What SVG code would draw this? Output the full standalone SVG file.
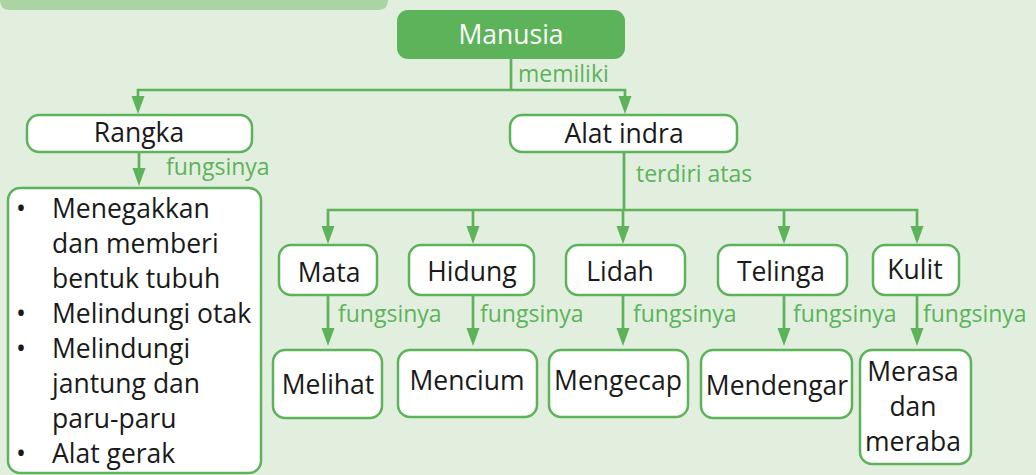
<svg xmlns="http://www.w3.org/2000/svg" width="1036" height="475" viewBox="0 0 1036 475">
<defs>
<style>
.bg{fill:#e2efdf}
.box{fill:#ffffff;stroke:#5cb35a;stroke-width:2.5}
.t{font-family:"Open Sans","Noto Sans","Liberation Sans",sans-serif;font-size:26.5px;fill:#1a1a1a;text-anchor:middle}
.tl{font-family:"Open Sans","Noto Sans","Liberation Sans",sans-serif;font-size:26.5px;fill:#1a1a1a}
.lbl{font-family:"Open Sans","Noto Sans","Liberation Sans",sans-serif;font-size:23px;fill:#5cb35a}
.ln{fill:none;stroke:#5cb35a;stroke-width:2.7}
.ah{fill:#5cb35a}
</style>
</defs>
<rect class="bg" x="0" y="0" width="1036" height="475"/>
<path d="M0,-10 H388 V0 Q388,10 378,10 H10 Q0,10 0,0 Z" fill="#acd3a4"/>

<g id="connectors">
<path class="ln" d="M511,59 V90"/>
<path class="ln" d="M138,98 V90 H625 V98"/>
<polygon class="ah" points="131.5,96 144.5,96 138,114"/>
<polygon class="ah" points="618.5,96 631.5,96 625,114"/>
<path class="ln" d="M139,152 V170"/>
<polygon class="ah" points="132.5,168 145.5,168 139,186"/>
<path class="ln" d="M624,152 V210"/>
<path class="ln" d="M328,228 V210 H917 V228"/>
<path class="ln" d="M473,210 V228"/>
<path class="ln" d="M623,210 V228"/>
<path class="ln" d="M784,210 V228"/>
<polygon class="ah" points="321.5,226 334.5,226 328,244"/>
<polygon class="ah" points="466.5,226 479.5,226 473,244"/>
<polygon class="ah" points="616.5,226 629.5,226 623,244"/>
<polygon class="ah" points="777.5,226 790.5,226 784,244"/>
<polygon class="ah" points="910.5,226 923.5,226 917,244"/>
<path class="ln" d="M328,295 V330"/>
<path class="ln" d="M473,295 V330"/>
<path class="ln" d="M623,295 V330"/>
<path class="ln" d="M784,295 V330"/>
<path class="ln" d="M917,295 V330"/>
<polygon class="ah" points="321.5,328 334.5,328 328,346"/>
<polygon class="ah" points="466.5,328 479.5,328 473,346"/>
<polygon class="ah" points="616.5,328 629.5,328 623,346"/>
<polygon class="ah" points="777.5,328 790.5,328 784,346"/>
<polygon class="ah" points="910.5,328 923.5,328 917,346"/>
<text class="lbl" x="518" y="82">memiliki</text>
<text class="lbl" x="166" y="175">fungsinya</text>
<text class="lbl" x="636" y="182">terdiri atas</text>
<text class="lbl" x="338" y="322">fungsinya</text>
<text class="lbl" x="480" y="322">fungsinya</text>
<text class="lbl" x="633" y="322">fungsinya</text>
<text class="lbl" x="793" y="322">fungsinya</text>
<text class="lbl" x="923" y="322">fungsinya</text>
</g>

<g id="manusia">
<rect x="397" y="10" width="228" height="49" rx="11" fill="#5cb35a"/>
<text class="t" x="511" y="44" style="fill:#ffffff">Manusia</text>
</g>
<g id="rangka">
<rect class="box" x="27" y="115" width="225" height="37" rx="12"/>
<text class="t" x="139" y="142">Rangka</text>
</g>
<g id="alat-indra">
<rect class="box" x="510" y="115" width="227" height="37" rx="12"/>
<text class="t" x="624" y="143">Alat indra</text>
</g>
<g id="fungsi-rangka">
<rect class="box" x="8" y="188" width="253" height="285" rx="12"/>
<text class="tl" x="16" y="218">•</text>
<text class="tl" x="52" y="218">Menegakkan</text>
<text class="tl" x="52" y="253">dan memberi</text>
<text class="tl" x="52" y="288">bentuk tubuh</text>
<text class="tl" x="16" y="323">•</text>
<text class="tl" x="52" y="323">Melindungi otak</text>
<text class="tl" x="16" y="358">•</text>
<text class="tl" x="52" y="358">Melindungi</text>
<text class="tl" x="52" y="393">jantung dan</text>
<text class="tl" x="52" y="428">paru-paru</text>
<text class="tl" x="16" y="463">•</text>
<text class="tl" x="52" y="463">Alat gerak</text>
</g>
<g id="mata">
<rect class="box" x="279" y="245" width="98" height="50" rx="12"/>
<text class="t" x="329" y="282">Mata</text>
</g>
<g id="hidung">
<rect class="box" x="409" y="245" width="125" height="50" rx="12"/>
<text class="t" x="472" y="281">Hidung</text>
</g>
<g id="lidah">
<rect class="box" x="566" y="245" width="119" height="50" rx="12"/>
<text class="t" x="620" y="281">Lidah</text>
</g>
<g id="telinga">
<rect class="box" x="718" y="245" width="129" height="50" rx="12"/>
<text class="t" x="781" y="281">Telinga</text>
</g>
<g id="kulit">
<rect class="box" x="873" y="245" width="86" height="50" rx="12"/>
<text class="t" x="915" y="279">Kulit</text>
</g>
<g id="melihat">
<rect class="box" x="273" y="350" width="109" height="68" rx="12"/>
<text class="t" x="328" y="394">Melihat</text>
</g>
<g id="mencium">
<rect class="box" x="398" y="350" width="139" height="67" rx="12"/>
<text class="t" x="467" y="390">Mencium</text>
</g>
<g id="mengecap">
<rect class="box" x="549" y="350" width="139" height="67" rx="12"/>
<text class="t" x="618" y="390">Mengecap</text>
</g>
<g id="mendengar">
<rect class="box" x="701" y="350" width="151" height="68" rx="12"/>
<text class="t" x="777" y="395">Mendengar</text>
</g>
<g id="merasa">
<rect class="box" x="860" y="350" width="111" height="114" rx="12"/>
<text class="t" x="913" y="381">Merasa</text>
<text class="t" x="913" y="416">dan</text>
<text class="t" x="913" y="451">meraba</text>
</g>
</svg>
